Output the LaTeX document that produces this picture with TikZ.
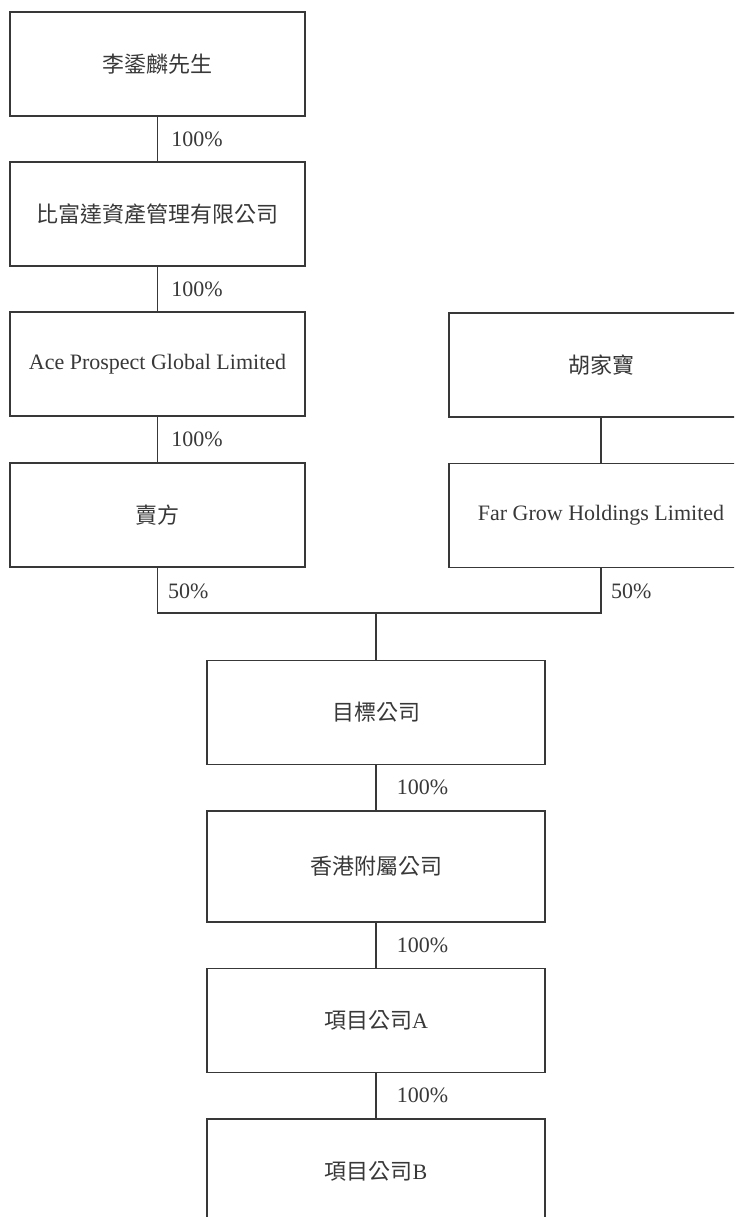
\documentclass[tikz,border=0pt]{standalone}
\usepackage{fontspec}
\setmainfont{Liberation Serif}
\newfontfamily\cjk{Noto Sans CJK TC}
\usepackage{tikz}
\colorlet{ink}{black!78}
\tikzset{
        firm/.style={draw=ink, line width=1.6pt, minimum width=295pt, minimum height=104pt, inner sep=0pt, text=ink, font=\fontsize{22}{26}\selectfont},
        sub/.style={firm, minimum width=338pt},
        pct/.style={anchor=west, inner sep=0pt, text=ink, font=\fontsize{22}{26}\selectfont},
        link/.style={draw=ink, line width=1.6pt},
}

\begin{document}
\begin{tikzpicture}[x=1pt, y=-1pt]
        \useasboundingbox (0,0) rectangle (734,1217);
        \clip (0,0) rectangle (734,1217);
        \node (owner) [firm] at (157.5, 64) {\cjk 李鋈麟先生};
        \node (amc) [firm] at (157.5, 214) {\cjk 比富達資產管理有限公司};
        \node (ace) [firm] at (157.5, 364) {Ace Prospect Global Limited};
        \node (seller) [firm] at (157.5, 515) {\cjk 賣方};
        \node (wu) [firm, minimum width=304pt] at (601, 365) {\cjk 胡家寶};
        \node (fargrow) [firm, minimum width=304pt] at (601, 515.5) {Far Grow Holdings Limited};
        \node (target) [sub] at (376, 712.5) {\cjk 目標公司};
        \node (hk) [sub, minimum height=111pt] at (376, 866.5) {\cjk 香港附屬公司};
        \node (proja) [sub] at (376, 1020.5) {{\cjk 項目公司}A};
        \node (projb) [sub] at (376, 1171) {{\cjk 項目公司}B};
        \coordinate (bus) at (376, 613);
        \draw [link] (owner) edge node [pct, xshift=13pt] {100\%} (amc);
        \draw [link] (amc) edge node [pct, xshift=13pt] {100\%} (ace);
        \draw [link] (ace) edge node [pct, xshift=13pt] {100\%} (seller);
        \draw [link] (wu) edge (fargrow);
        \draw [link] (seller.south) |- (bus) -| (fargrow.south);
        \draw [link] (bus) -- (target.north);
        \node (pctseller) [pct] at (168, 591) {50\%};
        \node (pctfar) [pct] at (611, 591) {50\%};
        \draw [link] (target) edge node [pct, xshift=20pt] {100\%} (hk);
        \draw [link] (hk) edge node [pct, xshift=20pt] {100\%} (proja);
        \draw [link] (proja) edge node [pct, xshift=20pt] {100\%} (projb);
\end{tikzpicture}
\end{document}
